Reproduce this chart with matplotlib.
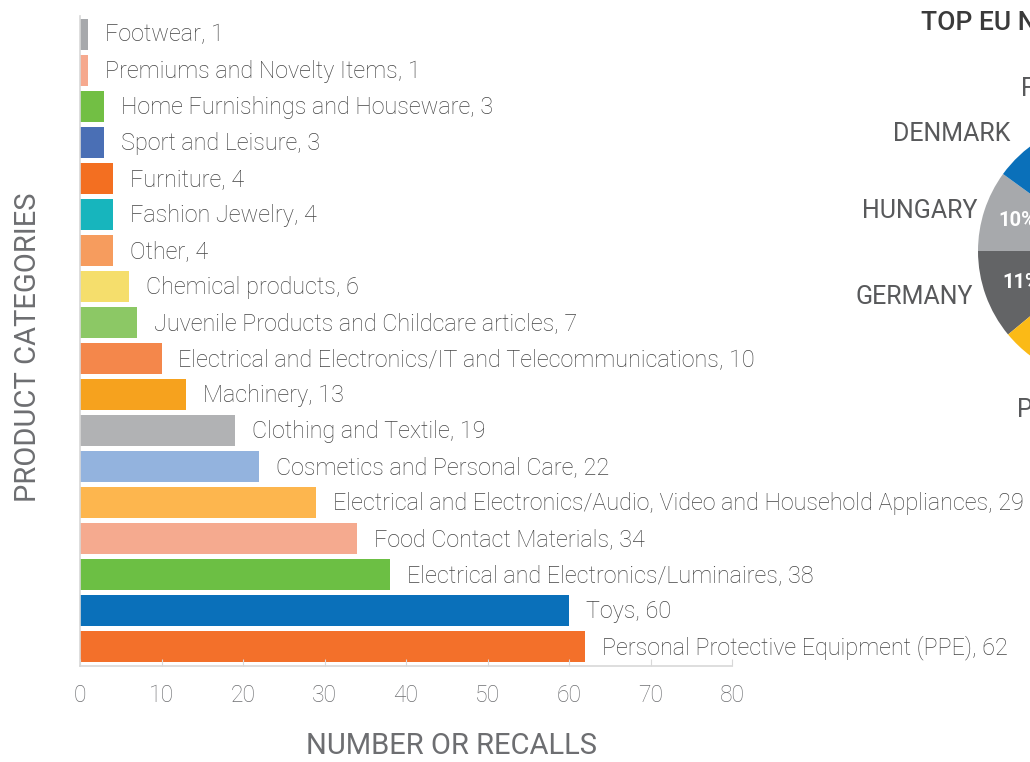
import matplotlib.pyplot as plt

# bar chart data (top to bottom as in the picture)
categories = [
    'Footwear', 'Premiums and Novelty Items', 'Home Furnishings and Houseware',
    'Sport and Leisure', 'Furniture', 'Fashion Jewelry', 'Other',
    'Chemical products', 'Juvenile Products and Childcare articles',
    'Electrical and Electronics/IT and Telecommunications', 'Machinery',
    'Clothing and Textile', 'Cosmetics and Personal Care',
    'Electrical and Electronics/Audio, Video and Household Appliances',
    'Food Contact Materials', 'Electrical and Electronics/Luminaires',
    'Toys', 'Personal Protective Equipment (PPE)',
]
recalls = [1, 1, 3, 3, 4, 4, 4, 6, 7, 10, 13, 19, 22, 29, 34, 38, 60, 62]
bar_colors = [
    '#a7a9ac', '#f6a98e', '#72bf44', '#4a6fb5', '#f36f21', '#17b5bd',
    '#f69c5e', '#f5de6c', '#8cc865', '#f4874b', '#f6a21e', '#b1b2b4',
    '#93b3de', '#fdb64e', '#f5aa8f', '#6cbf44', '#0a70ba', '#f3702a',
]
x_ticks = [0, 10, 20, 30, 40, 50, 60, 70, 80]

# pie (only part of it is inside the frame)
countries = ['GERMANY', 'HUNGARY', 'DENMARK', 'FRANCE', 'OTHERS', 'POLAND']
shares = [11, 10, 12, 22, 30, 15]
pie_colors = ['#636466', '#a7a9ac', '#0a70ba', '#f36f21', '#d1d3d4', '#fbba16']

FONT = 'Roboto'

W, H = 1030, 762
fig = plt.figure(figsize=(W / 100, H / 100), dpi=100)

# bar axes placed by pixel box
left, right, top, bottom = 80, 732, 16, 666
ax = fig.add_axes([left / W, 1 - bottom / H, (right - left) / W, (bottom - top) / H])
n = len(categories)
ypos = list(range(n - 1, -1, -1))
ax.barh(ypos, recalls, height=0.86, color=bar_colors)
for y, v, name in zip(ypos, recalls, categories):
    ax.annotate(f'{name}, {v}', (v, y), xytext=(17, -1), textcoords='offset pixels',
                va='center', ha='left', fontsize=16.8, color='#444444',
                family=FONT, fontweight='light')
ax.set_xlim(0, 80)
ax.set_ylim(-0.53, n - 0.5)
ax.set_xticks(x_ticks)
ax.set_yticks([])
ax.tick_params(axis='x', direction='in', length=5, color='#d8d8d8',
               labelsize=16.5, labelcolor='#6d6e71', pad=13)
for lab in ax.get_xticklabels():
    lab.set_family(FONT)
    lab.set_fontweight('light')
for s in ['top', 'right']:
    ax.spines[s].set_visible(False)
for s in ['left', 'bottom']:
    ax.spines[s].set_color('#d8d8d8')
    ax.spines[s].set_linewidth(1.2)
ax.set_facecolor('none')

fig.text(451 / W, 1 - 746 / H, 'NUMBER OR RECALLS', ha='center', va='center',
         fontsize=21, color='#6d6e71', family=FONT)
fig.text(28 / W, 1 - 347 / H, 'PRODUCT CATEGORIES', ha='center', va='center',
         rotation=90, fontsize=21, color='#6d6e71', family=FONT)

# pie axes: centre (1109, 251), radius 131 px
cx, cy, r = 1109, 251, 131
pax = fig.add_axes([(cx - r) / W, 1 - (cy + r) / H, 2 * r / W, 2 * r / H])
pax.pie(shares, colors=pie_colors, startangle=219.6, counterclock=False,
        radius=1.0, wedgeprops=dict(linewidth=0))
pax.set_xlim(-1, 1)
pax.set_ylim(-1, 1)
pax.axis('off')

pct_style = dict(color='white', fontsize=14.5, fontweight='bold', family=FONT,
                 va='center', ha='left')
fig.text(998 / W, 1 - 221 / H, '10%', **pct_style)
fig.text(1002 / W, 1 - 283 / H, '11%', **pct_style)

lab_style = dict(fontsize=18, color='#58595b', family=FONT, va='center')
fig.text(1010 / W, 1 - 134 / H, 'DENMARK', ha='right', **lab_style)
fig.text(978 / W, 1 - 211 / H, 'HUNGARY', ha='right', **lab_style)
fig.text(973 / W, 1 - 297 / H, 'GERMANY', ha='right', **lab_style)
fig.text(1021 / W, 1 - 89 / H, 'FRANCE', ha='left', **lab_style)
fig.text(1017 / W, 1 - 410 / H, 'POLAND', ha='left', **lab_style)
fig.text(921 / W, 1 - 23 / H, 'TOP EU NOTIFYING COUNTRIES', ha='left', va='center',
         fontsize=19, color='#3a3a3a', family=FONT, fontweight='medium')

fig.savefig('out.png', dpi=100)
